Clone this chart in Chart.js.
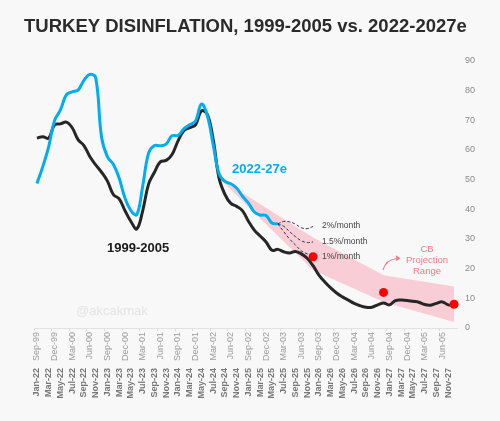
<!DOCTYPE html>
<html><head><meta charset="utf-8">
<script src="https://cdn.jsdelivr.net/npm/chart.js@4.4.1/dist/chart.umd.min.js"></script>
<style>html,body{margin:0;padding:0;background:#f8f8f8;}canvas{display:block;}</style>
</head><body>
<canvas id="c" width="500" height="421"></canvas>
<script>
// ---- categories (one per month) ----
const labels2022 = [
 "Jan-22","Feb-22","Mar-22","Apr-22","May-22","Jun-22","Jul-22","Aug-22","Sep-22","Oct-22","Nov-22","Dec-22",
 "Jan-23","Feb-23","Mar-23","Apr-23","May-23","Jun-23","Jul-23","Aug-23","Sep-23","Oct-23","Nov-23","Dec-23",
 "Jan-24","Feb-24","Mar-24","Apr-24","May-24","Jun-24","Jul-24","Aug-24","Sep-24","Oct-24","Nov-24","Dec-24",
 "Jan-25","Feb-25","Mar-25","Apr-25","May-25","Jun-25","Jul-25","Aug-25","Sep-25","Oct-25","Nov-25","Dec-25",
 "Jan-26","Feb-26","Mar-26","Apr-26","May-26","Jun-26","Jul-26","Aug-26","Sep-26","Oct-26","Nov-26","Dec-26",
 "Jan-27","Feb-27","Mar-27","Apr-27","May-27","Jun-27","Jul-27","Aug-27","Sep-27","Oct-27","Nov-27","Dec-27"];
const labels1999 = [
 "Sep-99","Oct-99","Nov-99","Dec-99",
 "Jan-00","Feb-00","Mar-00","Apr-00","May-00","Jun-00","Jul-00","Aug-00","Sep-00","Oct-00","Nov-00","Dec-00",
 "Jan-01","Feb-01","Mar-01","Apr-01","May-01","Jun-01","Jul-01","Aug-01","Sep-01","Oct-01","Nov-01","Dec-01",
 "Jan-02","Feb-02","Mar-02","Apr-02","May-02","Jun-02","Jul-02","Aug-02","Sep-02","Oct-02","Nov-02","Dec-02",
 "Jan-03","Feb-03","Mar-03","Apr-03","May-03","Jun-03","Jul-03","Aug-03","Sep-03","Oct-03","Nov-03","Dec-03",
 "Jan-04","Feb-04","Mar-04","Apr-04","May-04","Jun-04","Jul-04","Aug-04","Sep-04","Oct-04","Nov-04","Dec-04",
 "Jan-05","Feb-05","Mar-05","Apr-05","May-05","Jun-05","Jul-05","Aug-05"];

// ---- series values (annual CPI inflation, %) ----
const infl2022 = [48.7,54.4,61.1,70.0,73.5,78.6,79.6,80.2,83.5,85.5,84.4,64.3,
  57.7,55.2,50.5,43.7,39.6,38.2,47.8,58.9,61.5,61.4,62.0,64.8,
  64.9,67.1,68.5,69.8,75.5,71.6,61.8,52.0,49.4,48.6,47.1,44.4,
  42.1,39.1,38.1,37.9,35.4,35.1];
const infl1999 = [64.0,64.5,64.0,68.5,68.8,69.4,67.5,63.5,61.5,57.8,55.0,52.5,
  49.5,45.0,43.5,39.5,35.9,33.4,39.5,48.5,52.5,56.0,56.5,58.5,
  63.0,66.5,67.5,68.5,73.2,72.0,63.5,50.5,45.0,42.0,41.0,39.5,
  36.0,33.0,31.0,29.0,26.2,26.5,25.7,25.3,25.8,25.0,23.5,21.0,
  17.8,15.5,13.5,11.8,10.5,9.4,8.3,7.5,7.0,7.0,7.8,8.4,
  7.8,9.2,9.4,9.3,9.0,8.7,7.9,7.7,8.3,8.8,7.8,7.7];

// CB projection range (band corners)
const bandCats = ["Aug-24","Dec-25","Dec-26","Dec-27"];
const bandLow  = [50.5,19.5,8.8,2.0];
const bandHigh = [50.5,30.5,17.8,14.0];

// CB year-end targets (red dots)
const targetCats = ["Dec-25","Dec-26","Dec-27"];
const targetVals = [24,12,8];

// monthly-pace scenarios, Jun-25 .. Dec-25
const scenCats = ["Jun-25","Jul-25","Aug-25","Sep-25","Oct-25","Nov-25","Dec-25"];
const scen2pct  = [35.1,35.9,35.8,35.0,33.8,33.5,34.2];
const scen15pct = [35.1,34.3,32.5,30.8,29.4,28.8,29.0];
const scen1pct  = [35.1,32.5,30.0,28.0,26.0,25.0,24.2];

const pts = (cats, vals) => vals.map((v, i) => ({x: cats[i], y: v}));

const BLUE = '#00aeef', BLACK = '#262626', SALMON = '#ef7d84', FONT = '"Liberation Sans", Arial, sans-serif';

const textPlugin = {
  id: 'texts',
  beforeDatasetsDraw(chart) {
    const c = chart.ctx; c.save();
    c.font = '13px ' + FONT; c.fillStyle = '#e4e4e4'; c.textBaseline = 'alphabetic';
    c.fillText('@akcakmak', 76, 315);
    c.restore();
  },
  afterDatasetsDraw(chart) {
    const c = chart.ctx; c.save();
    c.textBaseline = 'middle'; c.textAlign = 'left';
    c.font = 'bold 13px ' + FONT; c.fillStyle = BLUE; c.fillText('2022-27e', 232, 169);
    c.fillStyle = '#1a1a1a'; c.fillText('1999-2005', 107, 248);
    c.font = '8.5px ' + FONT; c.fillStyle = '#444';
    c.fillText('2%/month', 322, 226);
    c.fillText('1.5%/month', 322, 242);
    c.fillText('1%/month', 322, 257);
    c.font = '9.5px ' + FONT; c.fillStyle = SALMON; c.textAlign = 'center';
    c.fillText('CB', 427, 249);
    c.fillText('Projection', 427, 260);
    c.fillText('Range', 427, 271);
    c.strokeStyle = SALMON; c.lineWidth = 1.2;
    c.beginPath(); c.moveTo(383, 270); c.quadraticCurveTo(386, 259.5, 397, 258.5); c.stroke();
    c.beginPath(); c.moveTo(400.5, 258.3); c.lineTo(396, 255.3); c.lineTo(396.3, 261.3); c.closePath(); c.fillStyle = SALMON; c.fill();
    c.restore();
  },
  afterDraw(chart) {
    const c = chart.ctx; c.save();
    c.font = 'bold 18.5px ' + FONT; c.fillStyle = '#2b2b2b'; c.textBaseline = 'alphabetic';
    c.fillText('TURKEY DISINFLATION, 1999-2005 vs. 2022-2027e', 24, 32);
    c.restore();
  }
};

new Chart(document.getElementById('c'), {
  type: 'line',
  data: {
    labels: labels2022,
    datasets: [
      {label: 'CB targets', data: pts(targetCats, targetVals), showLine: false, pointRadius: 4.5, pointBackgroundColor: '#ff0000', pointBorderWidth: 0, order: 0},
      {label: '2%/month', data: pts(scenCats, scen2pct), borderColor: '#2e3350', borderWidth: 1, borderDash: [3, 2], pointRadius: 0, tension: 0.4, order: 1},
      {label: '1.5%/month', data: pts(scenCats, scen15pct), borderColor: '#2e3350', borderWidth: 1, borderDash: [3, 2], pointRadius: 0, tension: 0.4, order: 1},
      {label: '1%/month', data: pts(scenCats, scen1pct), borderColor: '#2e3350', borderWidth: 1, borderDash: [3, 2], pointRadius: 0, tension: 0.4, order: 1},
      {label: '2022-27e', data: infl2022, borderColor: BLUE, borderWidth: 3, pointRadius: 0, tension: 0.4, order: 2},
      {label: '1999-2005', data: infl1999, borderColor: BLACK, borderWidth: 3, pointRadius: 0, tension: 0.4, order: 3},
      {label: 'bandLow', data: pts(bandCats, bandLow), borderWidth: 0, borderColor: 'rgba(0,0,0,0)', pointRadius: 0, tension: 0, fill: false, order: 5},
      {label: 'bandHigh', data: pts(bandCats, bandHigh), borderWidth: 0, borderColor: 'rgba(0,0,0,0)', pointRadius: 0, tension: 0, fill: '-1', backgroundColor: '#f9cdd6', order: 4}
    ]
  },
  options: {
    responsive: false, animation: false, devicePixelRatio: 1,
    layout: {padding: {left: 34, right: 0, top: 61, bottom: 21}},
    plugins: {legend: {display: false}, tooltip: {enabled: false}, title: {display: false}},
    scales: {
      x: {
        type: 'category', position: 'bottom', offset: true, weight: 2,
        grid: {display: false, drawTicks: false}, border: {display: false},
        ticks: {autoSkip: false, minRotation: 90, maxRotation: 90, padding: 4,
          color: '#777', font: {family: FONT, size: 9, weight: 'bold'},
          callback: function (v, i) { return i % 2 === 0 ? this.getLabelForValue(v) : ''; }},
        afterFit(s) { s.height = 36; }
      },
      x99: {
        type: 'category', labels: labels1999, position: 'bottom', offset: true, weight: 1,
        grid: {display: true, offset: true, drawOnChartArea: false, drawTicks: true, tickLength: 3,
          color: (ctx) => (ctx.index % 3 === 0 ? '#dadada' : 'rgba(0,0,0,0)')},
        border: {display: true, color: '#e2e2e2', width: 1},
        ticks: {autoSkip: false, minRotation: 90, maxRotation: 90, padding: 1,
          color: '#9a9a9a', font: {family: FONT, size: 9},
          callback: function (v, i) { return i % 3 === 0 ? this.getLabelForValue(v) : ''; }},
        afterFit(s) { s.height = 36; }
      },
      y: {
        position: 'right', min: 0, max: 90,
        grid: {display: false, drawTicks: false}, border: {display: false},
        ticks: {stepSize: 10, padding: 8, color: '#8a8a8a', font: {family: FONT, size: 9}},
        afterFit(s) { s.width = 43; }
      }
    }
  },
  plugins: [textPlugin]
});
</script>
</body></html>
